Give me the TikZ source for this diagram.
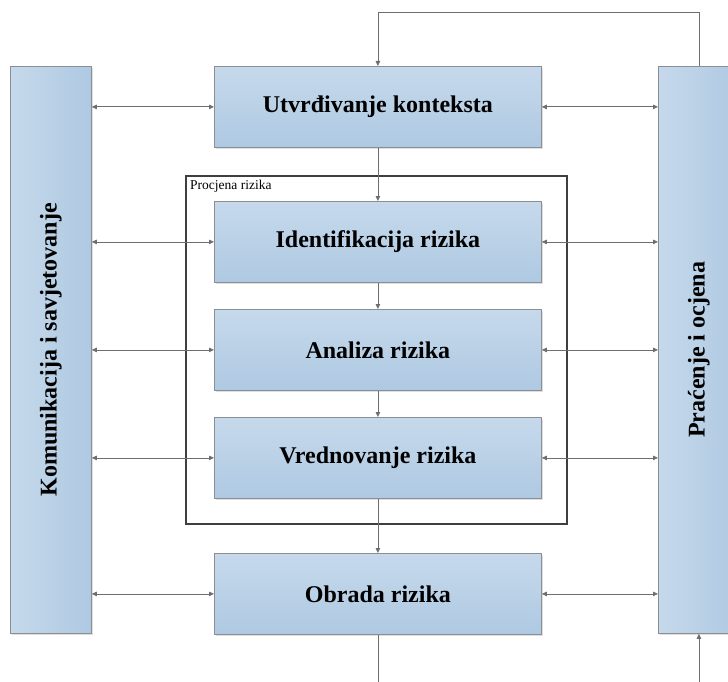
\documentclass[tikz,border=0pt]{standalone}
\usepackage{fontspec}
\setmainfont{Liberation Serif}
\usetikzlibrary{arrows.meta,shadows}
\definecolor{bxlight}{HTML}{C6D9EB}
\definecolor{bxdark}{HTML}{AEC9E2}
\definecolor{bxline}{HTML}{8A8F96}
\definecolor{conn}{HTML}{6E6E6E}
\definecolor{frm}{HTML}{3F3F3F}
\tikzset{
  shadowed/.style={drop shadow={opacity=0.25,shadow xshift=1.2pt,shadow yshift=-1.2pt}},
  hbox/.style={draw=bxline, line width=0.8pt, top color=bxlight, bottom color=bxdark,
    minimum width=327pt, minimum height=81pt, inner sep=0pt, anchor=north west, shadowed,
    font=\bfseries\fontsize{24}{28}\selectfont},
  vbox/.style={draw=bxline, line width=0.8pt, left color=bxlight, right color=bxdark,
    minimum width=81pt, minimum height=567pt, inner sep=0pt, anchor=north west, shadowed},
  vtext/.style={rotate=90, font=\bfseries\fontsize{24}{28}\selectfont},
  conline/.style={draw=conn, line width=0.8pt},
  tip/.style={conline, -{Triangle[length=5pt,width=4.5pt]}},
  dbl/.style={conline, {Triangle[length=5pt,width=4.5pt]}-{Triangle[length=5pt,width=4.5pt]}},
}
\begin{document}
\begin{tikzpicture}[x=1pt,y=-1pt]
\useasboundingbox (0,0) rectangle (728,682);
\clip (0,0) rectangle (728,682);
% side boxes
\node[vbox] (lb) at (10,66) {};
\node[vtext] (lbt) at (lb.center) {Komunikacija i savjetovanje};
\node[vbox] (rb) at (658,66) {};
\node[vtext] (rbt) at (rb.center) {Praćenje i ocjena};
% frame
\node[draw=frm, line width=2pt, minimum width=381pt, minimum height=348pt, anchor=north west, inner sep=0pt] (frame) at (185,175) {};
\node[anchor=north west, inner sep=0pt, font=\fontsize{13.5}{15}\selectfont] (frl) at ([xshift=5pt,yshift=-5pt]frame.north west) {Procjena rizika};
% process boxes
\node[hbox] (ctx) at (214,66) {Utvrđivanje konteksta};
\node[hbox] (id) at (214,201) {Identifikacija rizika};
\node[hbox] (an) at (214,309) {Analiza rizika};
\node[hbox] (vr) at (214,417) {Vrednovanje rizika};
\node[hbox] (ob) at (214,553) {Obrada rizika};
% vertical flow
\draw[tip] (ctx.south) -- (id.north);
\draw[tip] (id.south) -- (an.north);
\draw[tip] (an.south) -- (vr.north);
\draw[tip] (vr.south) -- (ob.north);
\coordinate (obend) at (ob.south |- 0,690);
\draw[conline] (ob.south) -- (obend);
\coordinate (rbstart) at (rb.south |- 0,690);
\draw[tip] (rbstart) -- (rb.south);
% feedback loop
\draw[tip] (rb.north) -- ++(0,-54) -| (ctx.north);
% horizontal double arrows
\foreach \b in {ctx,id,an,vr,ob}{
  \draw[dbl] (lb.east |- \b.west) -- (\b.west);
  \draw[dbl] (\b.east) -- (rb.west |- \b.east);
}
\end{tikzpicture}
\end{document}
